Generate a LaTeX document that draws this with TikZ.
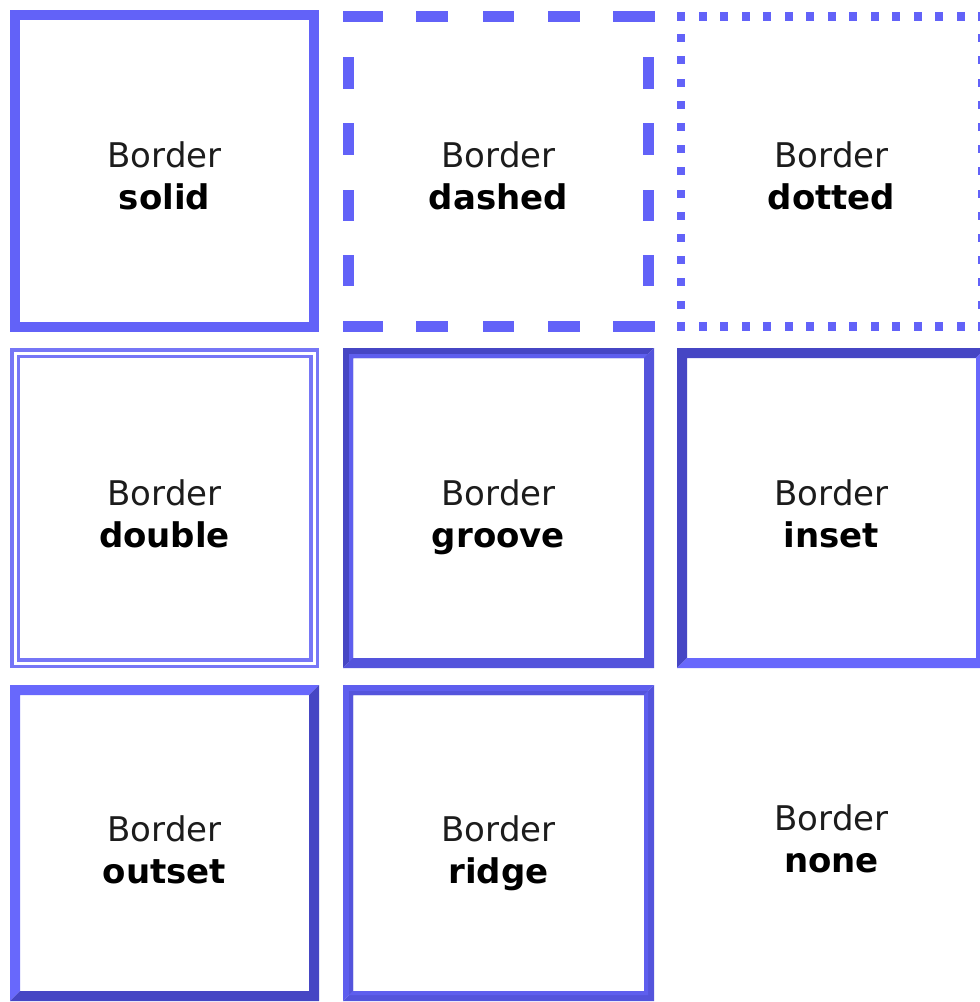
\documentclass[tikz,border=0pt]{standalone}
\usepackage{fontspec}
\setmainfont{DejaVu Sans}
\definecolor{bmain}{RGB}{98,98,248}
\definecolor{bdark}{RGB}{70,70,196}
\definecolor{blight}{RGB}{104,104,252}
\definecolor{bmid}{RGB}{84,84,220}
\definecolor{bmidl}{RGB}{94,94,238}
\definecolor{bdouble}{RGB}{118,118,246}
\definecolor{txt}{RGB}{28,28,28}
\newcommand\bevelbox[7]{%
  \fill[#6] (#1,#2) -- (#3,#2) -- ({#3-#5},{#2+#5}) -- ({#1+#5},{#2+#5}) -- ({#1+#5},{#4-#5}) -- (#1,#4) -- cycle;
  \fill[#7] (#3,#4) -- (#1,#4) -- ({#1+#5},{#4-#5}) -- ({#3-#5},{#4-#5}) -- ({#3-#5},{#2+#5}) -- (#3,#2) -- cycle;}
\tikzset{
  lbl/.style={anchor=base, inner sep=0pt, text=txt, font=\fontsize{34}{42}\selectfont},
  lblb/.style={anchor=base, inner sep=0pt, text=black, font=\fontsize{34}{42}\selectfont\bfseries},
  solidborder/.style={draw=bmain, line width=10pt},
  doubleline/.style={draw=bdouble, line width=3.5pt},
  dashpiece/.style={fill=bmain},
  dotpiece/.style={fill=bmain},
}
\begin{document}
\begin{tikzpicture}[x=1pt,y=-1pt]
\useasboundingbox (0,0) rectangle (980,1002);
\fill[white] (0,0) rectangle (980,1002);
\clip (0,0) rectangle (980,1002);

% solid
\draw[solidborder] (15,15) rectangle (314,327);

% dashed
\foreach \a/\b in {343/383,416/448,483/514,548/580,613/655}{
  \fill[dashpiece] (\a,11) rectangle (\b,22);
  \fill[dashpiece] (\a,321) rectangle (\b,332);
}
\foreach \a/\b in {57/89,123/155,190/221,255/286}{
  \fill[dashpiece] (343,\a) rectangle (354,\b);
  \fill[dashpiece] (643,\a) rectangle (654,\b);
}

% dotted
\foreach \i in {0,...,14}{
  \fill[dotpiece] ({677+\i*21.5},12) rectangle ++(8,9);
  \fill[dotpiece] ({677+\i*21.5},322) rectangle ++(8,9);
  \fill[dotpiece] (677,{12+\i*22.2}) rectangle ++(8,8);
  \fill[dotpiece] (978,{12+\i*22.2}) rectangle ++(8,8);
}

% double
\draw[doubleline] (11.75,349.75) rectangle (317.25,666.25);
\draw[doubleline] (18.25,356.25) rectangle (310.75,659.75);

% groove
\bevelbox{343}{348}{654}{668}{10}{bdark}{bmid}
\bevelbox{349}{354}{648}{662}{4}{bmidl}{bmid}

% inset
\bevelbox{677}{348}{986}{668}{10}{bdark}{blight}

% outset
\bevelbox{10}{685}{319}{1001}{10}{blight}{bdark}

% ridge
\bevelbox{343}{685}{654}{1001}{10}{bmidl}{bmid}
\bevelbox{349}{691}{648}{995}{4}{bmid}{bmidl}

% labels
\node[lbl]  (t1) at (164.5,167) {Border};
\node[lblb] (b1) at (164.5,209) {solid};
\node[lbl]  (t2) at (498.5,167) {Border};
\node[lblb] (b2) at (498.5,209) {dashed};
\node[lbl]  (t3) at (831.5,167) {Border};
\node[lblb] (b3) at (831.5,209) {dotted};
\node[lbl]  (t4) at (164.5,505) {Border};
\node[lblb] (b4) at (164.5,547) {double};
\node[lbl]  (t5) at (498.5,505) {Border};
\node[lblb] (b5) at (498.5,547) {groove};
\node[lbl]  (t6) at (831.5,505) {Border};
\node[lblb] (b6) at (831.5,547) {inset};
\node[lbl]  (t7) at (164.5,841) {Border};
\node[lblb] (b7) at (164.5,883) {outset};
\node[lbl]  (t8) at (498.5,841) {Border};
\node[lblb] (b8) at (498.5,883) {ridge};
\node[lbl]  (t9) at (831.5,830) {Border};
\node[lblb] (b9) at (831.5,872) {none};
\end{tikzpicture}
\end{document}
